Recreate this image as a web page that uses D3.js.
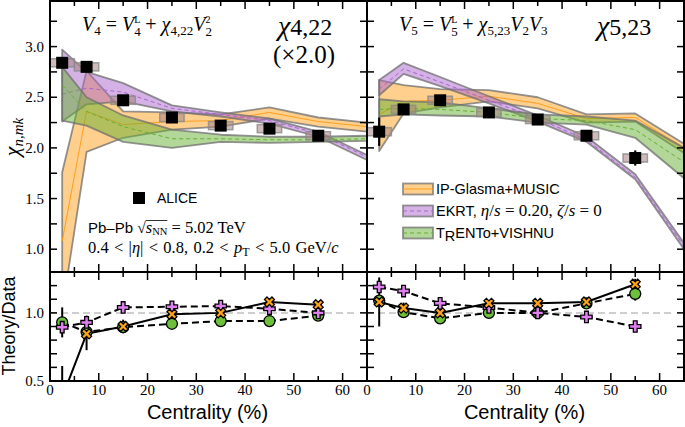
<!DOCTYPE html>
<html><head><meta charset="utf-8">
<script src="https://cdn.jsdelivr.net/npm/d3@7"></script>
<style>body{margin:0;background:#fff}svg{display:block}</style>
</head><body><svg id="c" width="685" height="427"></svg>
<script>
// ---------- data ----------
const cent = [2.5, 7.5, 15, 25, 35, 45, 55];
const centModel = [2.5, 7.5, 15, 25, 35, 45, 55, 65];
const xTicks = [0, 10, 20, 30, 40, 50, 60];
const yTicksTop = [1.0, 1.5, 2.0, 2.5, 3.0];
const yTicksBot = [0.5, 1.0];

// chi_4,22 (x2.0)
const alice422 = [2.84, 2.80, 2.47, 2.30, 2.22, 2.19, 2.12];
const alice422Stat = [0.03, 0.02, 0.02, 0.015, 0.015, 0.015, 0.015];
const alice422Sys = [0.04, 0.04, 0.04, 0.04, 0.04, 0.04, 0.04];
const ipg422Mid = [1.08, 2.36, 2.23, 2.26, 2.27, 2.35, 2.26, 2.21];
const ipg422Lo  = [0.40, 1.96, 2.10, 2.18, 2.21, 2.29, 2.21, 2.16];
const ipg422Hi  = [1.76, 2.76, 2.36, 2.35, 2.33, 2.40, 2.30, 2.25];
const ekrt422Mid = [2.53, 2.59, 2.55, 2.39, 2.33, 2.27, 2.14, 1.91];
const ekrt422Lo  = [2.26, 2.43, 2.46, 2.36, 2.31, 2.24, 2.11, 1.88];
const ekrt422Hi  = [2.97, 2.75, 2.64, 2.42, 2.35, 2.29, 2.16, 1.93];
const trento422Mid = [2.62, 2.36, 2.21, 2.09, 2.09, 2.08, 2.08, 2.09];
const trento422Lo  = [2.27, 2.22, 2.06, 2.00, 2.06, 2.05, 2.06, 2.07];
const trento422Hi  = [2.80, 2.50, 2.32, 2.18, 2.13, 2.11, 2.11, 2.12];
const ipgRatio422 = [0.38, 0.846, 0.90, 0.99, 1.00, 1.08, 1.06];
const ipgRatio422Err = [0.23, 0.12, 0.05, 0.01, 0.01, 0.01, 0.01];
const ekrtRatio422 = [0.895, 0.93, 1.04, 1.045, 1.05, 1.03, 1.00];
const ekrtRatio422Err = [0.02, 0.05, 0.01, 0.01, 0.01, 0.01, 0.01];
const trentoRatio422 = [0.93, 0.86, 0.895, 0.92, 0.94, 0.94, 0.98];
const trentoRatio422Err = [0.11, 0.03, 0.01, 0.01, 0.01, 0.01, 0.01];

// chi_5,23
const alice523 = [2.16, 2.38, 2.47, 2.35, 2.28, 2.12, 1.90];
const alice523Stat = [0.14, 0.03, 0.03, 0.02, 0.02, 0.02, 0.075];
const alice523Sys = [0.04, 0.04, 0.04, 0.04, 0.04, 0.04, 0.04];
const ipg523Mid = [2.33, 2.46, 2.47, 2.51, 2.44, 2.29, 2.30, 2.00];
const ipg523Lo  = [1.97, 2.34, 2.40, 2.46, 2.39, 2.25, 2.26, 1.95];
const ipg523Hi  = [2.67, 2.62, 2.58, 2.57, 2.50, 2.33, 2.34, 2.04];
const ekrt523Mid = [2.58, 2.78, 2.65, 2.47, 2.29, 2.08, 1.71, 1.03];
const ekrt523Lo  = [2.52, 2.73, 2.61, 2.44, 2.26, 2.06, 1.69, 1.00];
const ekrt523Hi  = [2.67, 2.84, 2.70, 2.51, 2.32, 2.11, 1.74, 1.06];
const trento523Mid = [2.38, 2.39, 2.38, 2.35, 2.29, 2.27, 2.18, 1.86];
const trento523Lo  = [2.31, 2.33, 2.32, 2.31, 2.25, 2.23, 2.10, 1.70];
const trento523Hi  = [2.48, 2.46, 2.45, 2.39, 2.33, 2.31, 2.27, 2.00];
const ipgRatio523 = [1.08, 1.035, 1.00, 1.07, 1.07, 1.08, 1.21];
const ipgRatio523Err = [0.18, 0.04, 0.02, 0.02, 0.02, 0.02, 0.04];
const ekrtRatio523 = [1.19, 1.16, 1.07, 1.04, 1.00, 0.97, 0.90];
const ekrtRatio523Err = [0.03, 0.02, 0.02, 0.02, 0.01, 0.01, 0.01];
const trentoRatio523 = [1.09, 1.005, 0.96, 1.00, 1.00, 1.07, 1.14];
const trentoRatio523Err = [0.03, 0.02, 0.02, 0.02, 0.01, 0.01, 0.05];

// ---------- style ----------
const C = {
  ipg: "#ff9f1c", ekrt: "#a965cc", trento: "#66b032",
  ipgM: "#ffa31a", ekrtM: "#e07ff0", trentoM: "#6cc03a"
};
const SERIF = "'Liberation Serif', 'Times New Roman', serif";
const SANS = "'Liberation Sans', Arial, sans-serif";

const svg = d3.select("#c");
const topY0 = 1, topY1 = 272, botY1 = 381;
const yTop = d3.scaleLinear().domain([0.775, 3.45]).range([topY1, topY0]);
const yBot = d3.scaleLinear().domain([0.5, 1.3]).range([botY1, topY1]);

const panels = [
  {x0: 50, x1: 367, alice: alice422, stat: alice422Stat, sys: alice422Sys,
   bands: [
     {k: "ipg", mid: ipg422Mid, lo: ipg422Lo, hi: ipg422Hi, dash: null},
     {k: "ekrt", mid: ekrt422Mid, lo: ekrt422Lo, hi: ekrt422Hi, dash: "4,3"},
     {k: "trento", mid: trento422Mid, lo: trento422Lo, hi: trento422Hi, dash: "4,3"}],
   ratios: [
     {k: "trento", v: trentoRatio422, e: trentoRatio422Err, dash: "7,4", sym: "circle"},
     {k: "ekrt", v: ekrtRatio422, e: ekrtRatio422Err, dash: "7,4", sym: "plus"},
     {k: "ipg", v: ipgRatio422, e: ipgRatio422Err, dash: null, sym: "x"}],
   yLabels: true},
  {x0: 367, x1: 684, alice: alice523, stat: alice523Stat, sys: alice523Sys,
   bands: [
     {k: "ipg", mid: ipg523Mid, lo: ipg523Lo, hi: ipg523Hi, dash: null},
     {k: "ekrt", mid: ekrt523Mid, lo: ekrt523Lo, hi: ekrt523Hi, dash: "4,3"},
     {k: "trento", mid: trento523Mid, lo: trento523Lo, hi: trento523Hi, dash: "4,3"}],
   ratios: [
     {k: "trento", v: trentoRatio523, e: trentoRatio523Err, dash: "7,4", sym: "circle"},
     {k: "ekrt", v: ekrtRatio523, e: ekrtRatio523Err, dash: "7,4", sym: "plus"},
     {k: "ipg", v: ipgRatio523, e: ipgRatio523Err, dash: null, sym: "x"}],
   yLabels: false}
];

const defs = svg.append("defs");

function drawMarker(g, sym, cx, cy, col) {
  if (sym === "circle") {
    g.append("circle").attr("cx", cx).attr("cy", cy).attr("r", 5.5)
      .attr("fill", col).attr("stroke", "#000").attr("stroke-width", 1.3);
  } else {
    const p = d3.symbol(d3.symbolCross, sym === "x" ? 62 : 72)();
    g.append("path").attr("d", p)
      .attr("transform", `translate(${cx},${cy}) rotate(${sym === "x" ? 45 : 0})`)
      .attr("fill", col).attr("stroke", "#000").attr("stroke-width", 1.3);
  }
}

panels.forEach((P, pi) => {
  const x = d3.scaleLinear().domain([0, 65]).range([P.x0, P.x1]);
  const cid = "clipT" + pi, cidB = "clipB" + pi;
  defs.append("clipPath").attr("id", cid).append("rect")
    .attr("x", P.x0).attr("y", topY0).attr("width", P.x1 - P.x0).attr("height", topY1 - topY0);
  defs.append("clipPath").attr("id", cidB).append("rect")
    .attr("x", P.x0).attr("y", topY1).attr("width", P.x1 - P.x0).attr("height", botY1 - topY1);

  // ---- upper panel ----
  const gT = svg.append("g").attr("clip-path", `url(#${cid})`);
  P.bands.forEach(b => {
    const pts = centModel.map((c, i) => ({c, lo: b.lo[i], hi: b.hi[i], m: b.mid[i]}));
    const area = d3.area().x(d => x(d.c)).y0(d => yTop(d.lo)).y1(d => yTop(d.hi));
    gT.append("path").attr("d", area(pts)).attr("fill", C[b.k]).attr("fill-opacity", 0.5)
      .attr("stroke", "#6f6f6f").attr("stroke-opacity", 0.75).attr("stroke-width", 1.8)
      .attr("stroke-linejoin", "round");
    gT.append("path").attr("d", d3.line().x(d => x(d.c)).y(d => yTop(d.m))(pts))
      .attr("fill", "none").attr("stroke", C[b.k]).attr("stroke-width", 1)
      .attr("stroke-dasharray", b.dash);
  });
  // systematic boxes
  P.alice.forEach((v, i) => {
    gT.append("rect").attr("x", x(cent[i] - 2.5)).attr("width", x(cent[i] + 2.5) - x(cent[i] - 2.5))
      .attr("y", yTop(v + P.sys[i])).attr("height", yTop(v - P.sys[i]) - yTop(v + P.sys[i]))
      .attr("fill", "#a88484").attr("fill-opacity", 0.55)
      .attr("stroke", "#8a8a8a").attr("stroke-opacity", 0.8).attr("stroke-width", 1.5);
  });
  P.alice.forEach((v, i) => {
    gT.append("line").attr("x1", x(cent[i])).attr("x2", x(cent[i]))
      .attr("y1", yTop(v - P.stat[i])).attr("y2", yTop(v + P.stat[i]))
      .attr("stroke", "#000").attr("stroke-width", 2.2);
    gT.append("rect").attr("x", x(cent[i]) - 6).attr("y", yTop(v) - 6)
      .attr("width", 12).attr("height", 12).attr("fill", "#000");
  });

  // ---- lower panel ----
  const gB = svg.append("g").attr("clip-path", `url(#${cidB})`);
  gB.append("line").attr("x1", x(0)).attr("x2", x(63)).attr("y1", yBot(1)).attr("y2", yBot(1))
    .attr("stroke", "#cfcfcf").attr("stroke-width", 2).attr("stroke-dasharray", "7,4");
  P.ratios.forEach(r => {
    const pts = cent.map((c, i) => ({c, v: r.v[i]}));
    gB.append("path").attr("d", d3.line().x(d => x(d.c)).y(d => yBot(d.v))(pts))
      .attr("fill", "none").attr("stroke", "#000").attr("stroke-width", 2)
      .attr("stroke-dasharray", r.dash);
  });
  P.ratios.forEach(r => {
    cent.forEach((c, i) => {
      gB.append("line").attr("x1", x(c)).attr("x2", x(c))
        .attr("y1", yBot(r.v[i] - r.e[i])).attr("y2", yBot(r.v[i] + r.e[i]))
        .attr("stroke", "#000").attr("stroke-width", 2);
    });
  });
  P.ratios.forEach(r => {
    cent.forEach((c, i) => drawMarker(gB, r.sym, x(c), yBot(r.v[i]), C[r.k + "M"]));
  });

  // ---- axes / ticks ----
  const gA = svg.append("g").attr("stroke", "#000").attr("stroke-width", 1.5);
  const xt = d3.range(5, 65, 5);
  [[topY0, topY1], [topY1, botY1]].forEach(([a, b]) => {
    xt.forEach(t => {
      const L = t % 10 === 0 ? 8 : 5;
      gA.append("line").attr("x1", x(t)).attr("x2", x(t)).attr("y1", b).attr("y2", b - L);
      gA.append("line").attr("x1", x(t)).attr("x2", x(t)).attr("y1", a).attr("y2", a + L);
    });
  });
  d3.range(1.0, 3.3, 0.25).forEach(t => {
    [P.x0, P.x1].forEach((xx, s) => gA.append("line").attr("x1", xx).attr("x2", xx + (s ? -7 : 7))
      .attr("y1", yTop(t)).attr("y2", yTop(t)));
  });
  d3.range(0.6, 1.25, 0.1).forEach(t => {
    [P.x0, P.x1].forEach((xx, s) => gA.append("line").attr("x1", xx).attr("x2", xx + (s ? -7 : 7))
      .attr("y1", yBot(t)).attr("y2", yBot(t)));
  });
  // frames
  [[topY0, topY1], [topY1, botY1]].forEach(([a, b]) => {
    svg.append("rect").attr("x", P.x0).attr("y", a).attr("width", P.x1 - P.x0).attr("height", b - a)
      .attr("fill", "none").attr("stroke", "#000").attr("stroke-width", 2);
  });
  // x tick labels
  xTicks.forEach(t => {
    svg.append("text").attr("x", x(t)).attr("y", 395).attr("text-anchor", "middle")
      .attr("font-family", SERIF).attr("font-size", 15).text(t);
  });
  svg.append("text").attr("x", (P.x0 + P.x1) / 2 - 1).attr("y", 419).attr("text-anchor", "middle")
    .attr("font-family", SANS).attr("font-size", 20).text("Centrality (%)");
  if (P.yLabels) {
    yTicksTop.forEach(t => svg.append("text").attr("x", 44).attr("y", yTop(t) + 5)
      .attr("text-anchor", "end").attr("font-family", SERIF).attr("font-size", 15).text(t.toFixed(1)));
    yTicksBot.forEach(t => svg.append("text").attr("x", 44).attr("y", yBot(t) + 5)
      .attr("text-anchor", "end").attr("font-family", SERIF).attr("font-size", 15).text(t.toFixed(1)));
  }
});

// ---------- math text helper ----------
function mtext(x, y, segs, size, family, anchor) {
  const t = svg.append("text").attr("x", x).attr("y", y).attr("font-family", family || SERIF)
    .attr("font-size", size).attr("text-anchor", anchor || "start");
  let prev = 0;
  segs.forEach(s => {
    const b = s.b || 0;
    const ts = t.append("tspan").text(s.t).attr("dy", b - prev);
    prev = b;
    if (s.it) ts.attr("font-style", "italic");
    if (s.s) ts.attr("font-size", s.s);
    if (s.dx) ts.attr("dx", s.dx);
    if (s.f) ts.attr("font-family", s.f);
  });
  return t;
}

// formulas
mtext(82, 31, [
  {t: "V", it: 1}, {t: "4", s: 13, b: 4}, {t: " = ", b: 0},
  {t: "V", it: 1}, {t: "4", s: 13, b: 5}, {t: "L", s: 10, b: -8, dx: -6.5},
  {t: " + ", b: 0}, {t: "χ", it: 1}, {t: "4,22", s: 13, b: 4},
  {t: "V", it: 1, b: 0}, {t: "2", s: 13, b: 5}, {t: "2", s: 10, b: -8, dx: -6.5}
], 20);
mtext(399, 31, [
  {t: "V", it: 1}, {t: "5", s: 13, b: 4}, {t: " = ", b: 0},
  {t: "V", it: 1}, {t: "5", s: 13, b: 5}, {t: "L", s: 10, b: -8, dx: -6.5},
  {t: " + ", b: 0}, {t: "χ", it: 1}, {t: "5,23", s: 13, b: 4},
  {t: "V", it: 1, b: 0}, {t: "2", s: 13, b: 4}, {t: "V", it: 1, b: 0}, {t: "3", s: 13, b: 4}
], 20);
mtext(278, 35, [{t: "χ", it: 1, s: 28}, {t: "4,22"}], 24);
svg.append("text").attr("x", 273).attr("y", 63).attr("font-family", SERIF).attr("font-size", 25).text("(×2.0)");
mtext(597, 35, [{t: "χ", it: 1, s: 28}, {t: "5,23"}], 24);

// ALICE legend
svg.append("rect").attr("x", 133).attr("y", 192).attr("width", 12).attr("height", 12).attr("fill", "#000");
svg.append("text").attr("x", 157).attr("y", 203).attr("font-family", SANS).attr("font-size", 14).text("ALICE");

// system text
const sys = mtext(88, 232.5, [
  {t: "Pb–Pb ", f: SANS, s: 15}, {t: "√", s: 15.5}, {t: "s", it: 1}, {t: "NN", s: 10.5, b: 2.5},
  {t: " = 5.02 TeV", b: 0}
], 16.5);
{
  const node = sys.node();
  const full = node.textContent;
  const i0 = full.indexOf("s"), i1 = full.indexOf("NN") + 1;
  const p0 = node.getStartPositionOfChar(i0), p1 = node.getEndPositionOfChar(i1);
  svg.append("line").attr("x1", p0.x).attr("x2", p1.x).attr("y1", 220.5).attr("y2", 220.5)
    .attr("stroke", "#000").attr("stroke-width", 0.8);
}
mtext(88, 253, [
  {t: "0.4 < |"}, {t: "η", it: 1}, {t: "| < 0.8, 0.2 < "}, {t: "p", it: 1}, {t: "T", s: 12, b: 3},
  {t: " < 5.0 GeV/", b: 0}, {t: "c", it: 1}
], 16.5).attr("word-spacing", 1.2);

// model legend
const leg = [
  {k: "ipg", dash: null, y: 189, lab: [{t: "IP-Glasma+MUSIC"}]},
  {k: "ekrt", dash: "4,3", y: 211, lab: [{t: "EKRT, "}, {t: "η", it: 1, f: SERIF, s: 17}, {t: "/", f: SERIF, s: 17}, {t: "s", it: 1, f: SERIF, s: 17},
     {t: " = 0.20, ", f: SERIF, s: 17}, {t: "ζ", it: 1, f: SERIF, s: 17}, {t: "/", f: SERIF, s: 17}, {t: "s", it: 1, f: SERIF, s: 17}, {t: " = 0", f: SERIF, s: 17}]},
  {k: "trento", dash: "4,3", y: 233, lab: [{t: "T"}, {t: "R", b: 3}, {t: "ENTo+VISHNU", b: 0}]}
];
leg.forEach(L => {
  svg.append("rect").attr("x", 403).attr("y", L.y - 5.5).attr("width", 30).attr("height", 11)
    .attr("fill", C[L.k]).attr("fill-opacity", 0.5).attr("stroke", "#6f6f6f")
    .attr("stroke-opacity", 0.75).attr("stroke-width", 1.8);
  svg.append("line").attr("x1", 403).attr("x2", 433).attr("y1", L.y).attr("y2", L.y)
    .attr("stroke", C[L.k]).attr("stroke-width", 1).attr("stroke-dasharray", L.dash);
  mtext(436, L.y + 5, L.lab, 14.5, SANS);
});

// axis titles
const yl = svg.append("g").attr("transform", "translate(19,137) rotate(-90)");
yl.append("text").attr("text-anchor", "middle").attr("font-family", SERIF).attr("font-size", 22)
  .call(t => {
    t.append("tspan").attr("font-style", "italic").text("χ");
    t.append("tspan").attr("font-style", "italic").attr("font-size", 15).attr("dy", 4).text("n,mk");
  });
svg.append("text").attr("transform", "translate(15,326) rotate(-90)").attr("text-anchor", "middle")
  .attr("font-family", SANS).attr("font-size", 18).text("Theory/Data");
</script></body></html>
